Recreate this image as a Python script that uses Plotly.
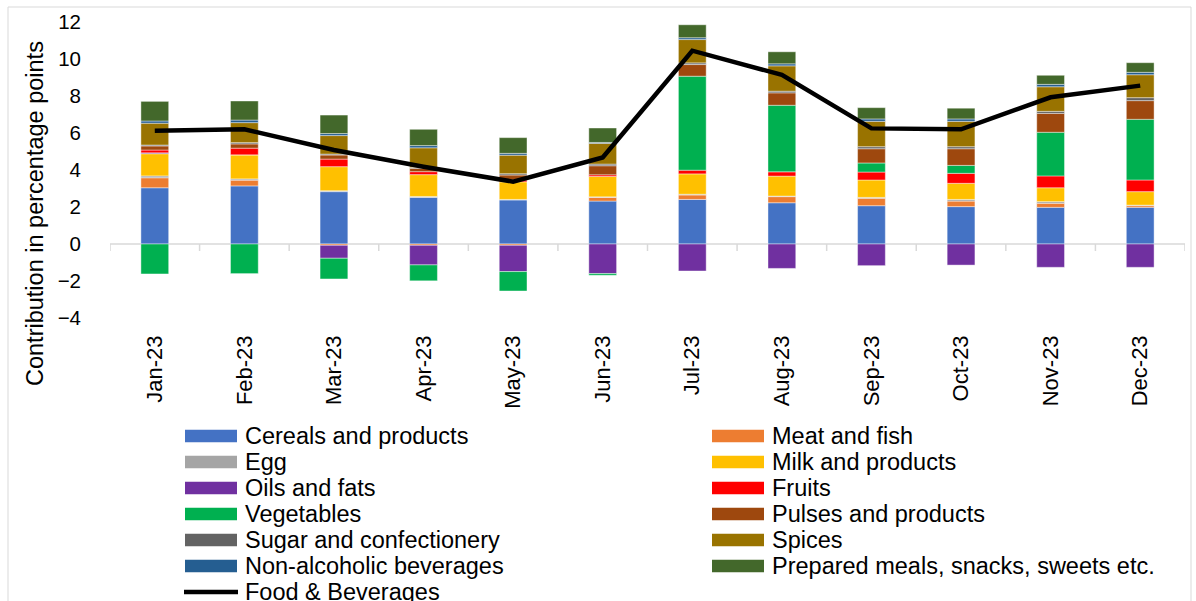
import plotly.graph_objects as go

months = ["Jan-23", "Feb-23", "Mar-23", "Apr-23", "May-23", "Jun-23",
          "Jul-23", "Aug-23", "Sep-23", "Oct-23", "Nov-23", "Dec-23"]

cereals = [3.04, 3.14, 2.83, 2.52, 2.38, 2.32, 2.41, 2.23, 2.07, 2.02, 1.98, 1.98]
meat = [0.54, 0.31, -0.07, -0.07, -0.07, 0.20, 0.24, 0.33, 0.40, 0.30, 0.22, 0.09]
egg = [0.10, 0.07, 0.05, 0.05, 0.03, 0.03, 0.04, 0.03, 0.05, 0.09, 0.09, 0.03]
milk = [1.20, 1.30, 1.30, 1.18, 0.95, 1.10, 1.10, 1.08, 0.94, 0.87, 0.75, 0.73]
oils = [0.05, 0.00, -0.70, -1.06, -1.42, -1.60, -1.46, -1.32, -1.17, -1.14, -1.26, -1.26]
fruits = [0.15, 0.36, 0.41, 0.16, 0.10, 0.09, 0.20, 0.23, 0.43, 0.54, 0.64, 0.63]
vegetables = [-1.62, -1.60, -1.12, -0.86, -1.05, -0.09, 5.08, 3.60, 0.49, 0.43, 2.36, 3.28]
pulses = [0.22, 0.23, 0.22, 0.18, 0.27, 0.49, 0.63, 0.67, 0.77, 0.90, 1.02, 1.01]
sugar = [0.05, 0.07, 0.05, 0.05, 0.07, 0.09, 0.09, 0.09, 0.11, 0.11, 0.11, 0.16]
spices = [1.18, 1.08, 1.00, 1.06, 1.00, 1.12, 1.26, 1.37, 1.37, 1.37, 1.33, 1.24]
non_alcoholic = [0.12, 0.14, 0.11, 0.12, 0.10, 0.05, 0.10, 0.11, 0.13, 0.13, 0.13, 0.13]
prepared = [1.06, 1.03, 1.00, 0.88, 0.85, 0.78, 0.70, 0.65, 0.61, 0.58, 0.49, 0.52]
food_beverages = [6.12, 6.20, 5.08, 4.18, 3.37, 4.68, 10.45, 9.14, 6.25, 6.20, 7.93, 8.56]

series_names = ["Cereals and products", "Meat and fish", "Egg", "Milk and products",
                "Oils and fats", "Fruits", "Vegetables", "Pulses and products",
                "Sugar and confectionery", "Spices", "Non-alcoholic beverages",
                "Prepared meals, snacks, sweets etc."]
series_values = [cereals, meat, egg, milk, oils, fruits, vegetables, pulses,
                 sugar, spices, non_alcoholic, prepared]
series_colors = ["#4472C4", "#ED7D31", "#A5A5A5", "#FFC000", "#7030A0", "#FF0000",
                 "#00B050", "#9E480E", "#636363", "#997300", "#255E91", "#43682B"]
line_name = "Food & Beverages"

FONT = "Liberation Sans, Arial, sans-serif"
W, H = 1196, 601
ML, MR, MT, MB = 110, 11, 22, 283
PW, PH = W - ML - MR, H - MT - MB


def px(x):
    return (x - ML) / PW


def py(y):
    return (H - MB - y) / PH


fig = go.Figure()
for name, vals, col in zip(series_names, series_values, series_colors):
    fig.add_trace(go.Bar(x=months, y=vals, name=name, marker_color=col,
                         marker_line=dict(color="rgba(255,255,255,0.7)", width=0.6),
                         showlegend=False))
fig.add_trace(go.Scatter(x=months, y=food_beverages, name=line_name, mode="lines",
                         line=dict(color="black", width=4.5), showlegend=False))

shapes = []
# zero axis line and category tick marks
shapes.append(dict(type="line", xref="x", yref="y", x0=-0.5, x1=len(months) - 0.5,
                   y0=0, y1=0, line=dict(color="#D9D9D9", width=1.5), layer="below"))
for i in range(len(months) + 1):
    shapes.append(dict(type="line", xref="x", yref="y", ysizemode="pixel", yanchor=0,
                       x0=i - 0.5, x1=i - 0.5, y0=0, y1=-7,
                       line=dict(color="#D9D9D9", width=1.5), layer="below"))
# outer chart border
shapes.append(dict(type="rect", xref="paper", yref="paper", x0=px(8), x1=px(1191),
                   y0=py(7), y1=py(640), line=dict(color="#D9D9D9", width=1),
                   fillcolor="rgba(0,0,0,0)", layer="below"))

annotations = []
legend_items = [(n, c, "bar") for n, c in zip(series_names, series_colors)] + [(line_name, "black", "line")]
row_y0, row_dy = 436, 26
col_sw = [(185, 237, 243), (712, 764, 770)]
for k, (name, col, kind) in enumerate(legend_items):
    r, c = divmod(k, 2)
    yc = row_y0 + r * row_dy
    sx0, sx1, tx = col_sw[c]
    if kind == "bar":
        shapes.append(dict(type="rect", xref="paper", yref="paper",
                           x0=px(sx0), x1=px(sx1), y0=py(yc - 6.3), y1=py(yc + 6.3),
                           fillcolor=col, line=dict(width=0)))
    else:
        shapes.append(dict(type="line", xref="paper", yref="paper",
                           x0=px(sx0 - 1), x1=px(sx1 + 1), y0=py(yc), y1=py(yc),
                           line=dict(color=col, width=4.5)))
    annotations.append(dict(text=name, xref="paper", yref="paper", x=px(tx), y=py(yc),
                            xanchor="left", yanchor="middle", showarrow=False,
                            font=dict(family=FONT, size=23.5, color="black")))

annotations.append(dict(text="Contribution in percentage points", xref="paper", yref="paper",
                        x=px(35), y=py(214), textangle=-90, showarrow=False,
                        xanchor="center", yanchor="middle",
                        font=dict(family=FONT, size=23.5, color="black")))

fig.update_layout(
    width=W, height=H, barmode="relative", bargap=0.69,
    margin=dict(l=ML, r=MR, t=MT, b=MB, autoexpand=False),
    plot_bgcolor="white", paper_bgcolor="white",
    font=dict(family=FONT, color="black"),
    shapes=shapes, annotations=annotations, showlegend=False,
    xaxis=dict(type="category", range=[-0.5, len(months) - 0.5], showgrid=False,
               showline=False, zeroline=False, ticks="", tickangle=-90,
               tickfont=dict(family=FONT, size=22, color="black"),
               ticklabelstandoff=12),
    yaxis=dict(range=[-4, 12], dtick=2, showgrid=False, showline=False, zeroline=False,
               ticks="", tickfont=dict(family=FONT, size=20.5, color="black"),
               ticklabelstandoff=28),
)

fig.write_html("out.html")
